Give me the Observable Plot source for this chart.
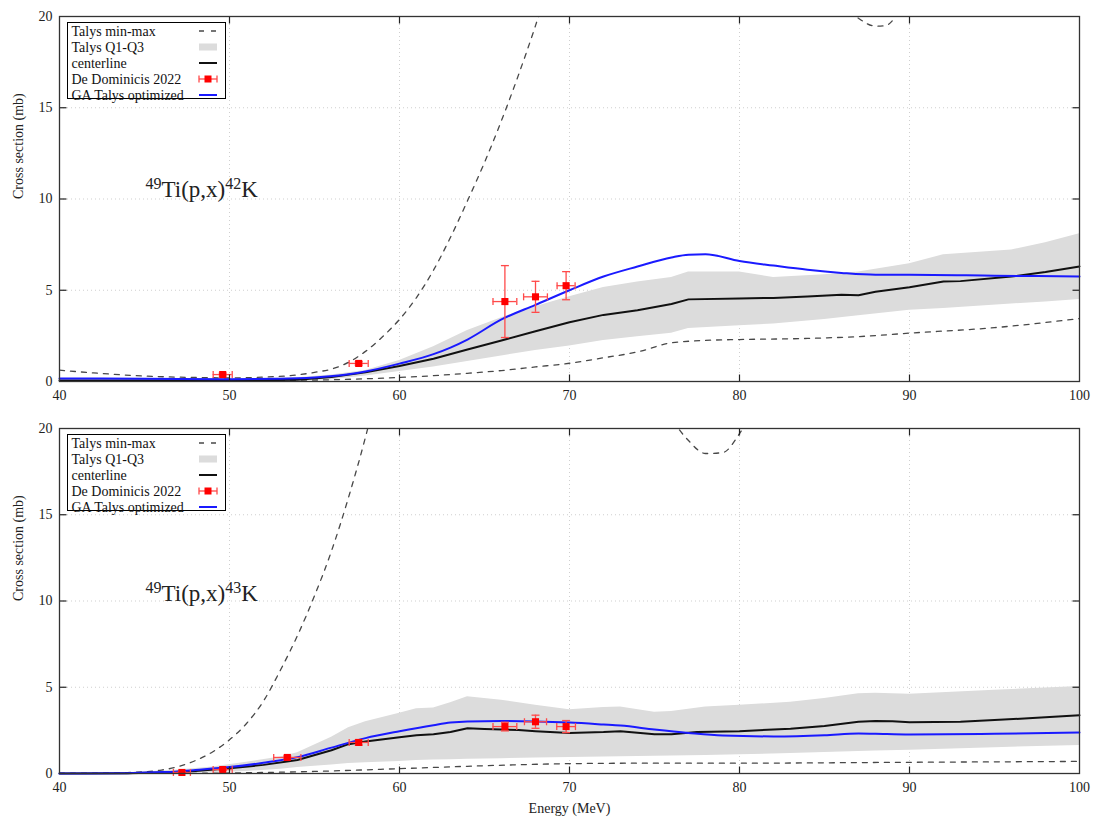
<!DOCTYPE html>
<html><head><meta charset="utf-8">
<script src="https://cdn.jsdelivr.net/npm/d3@7"></script>
<script src="https://cdn.jsdelivr.net/npm/@observablehq/plot@0.6"></script>
<style>
body{margin:0;background:#fff;}
#chart{width:1093px;}
#chart svg{display:block;}
</style></head><body><div id="chart"></div>
<script>
// ---------- axes ----------
const xTickValues = [40, 50, 60, 70, 80, 90, 100];
const yTickValues = [0, 5, 10, 15, 20];
const legendLabels = ["Talys min-max", "Talys Q1-Q3", "centerline", "De Dominicis 2022", "GA Talys optimized"];

// ---------- Panel 1: 49Ti(p,x)42K  ([E, value]) ----------
const k42Max = [[40,0.62],[42,0.47],[45,0.3],[48,0.22],[50,0.2],[52,0.24],[54,0.36],[55,0.5],[56,0.68],[57,1.05],[58,1.65],[59,2.45],[60,3.4],[61,4.6],[62,6.1],[63,7.9],[64,9.9],[65,12.0],[66,14.3],[67,16.8],[68,19.5],[69,22.5],[70,25.5],[74,34],[78,38],[82,31],[85,23],[86,20.7],[87,19.9],[88,19.47],[88.6,19.5],[89.2,20.0],[90,21.2],[92,24],[96,29],[100,33]];
const k42Min = [[40,0.05],[45,0.05],[50,0.05],[55,0.08],[58,0.15],[60,0.22],[62,0.32],[64,0.45],[66,0.6],[68,0.8],[70,1.0],[72,1.3],[74,1.62],[76,2.12],[78,2.25],[80,2.3],[84,2.36],[87,2.46],[90,2.65],[95,2.95],[100,3.45]];
const k42Band = [[40,0,0.15],[45,0,0.15],[50,0,0.15],[54,0.02,0.2],[56,0.1,0.35],[58,0.3,0.6],[60,0.55,1.15],[62,0.8,1.9],[64,1.1,2.8],[66,1.4,3.5],[68,1.7,4.1],[70,1.95,4.65],[72,2.25,5.15],[74,2.45,5.45],[76,2.65,5.7],[77,2.9,6.0],[80,3.05,6.0],[82,3.15,5.7],[85,3.4,5.85],[87,3.6,6.0],[90,3.9,6.45],[92,4.0,6.95],[96,4.25,7.2],[98,4.35,7.6],[100,4.5,8.1]];
const k42Center = [[40,0.05],[50,0.05],[54,0.1],[56,0.25],[58,0.5],[60,0.85],[62,1.25],[64,1.75],[66,2.25],[68,2.75],[70,3.25],[72,3.65],[74,3.9],[76,4.25],[77,4.5],[80,4.55],[82,4.58],[84,4.66],[86,4.76],[87,4.73],[88,4.92],[90,5.17],[92,5.48],[93,5.5],[96,5.75],[98,6.0],[100,6.3]];
const k42GA = [[40,0.17],[45,0.15],[50,0.13],[53,0.15],[55,0.22],[57,0.4],[58,0.55],[60,0.98],[62,1.5],[63,1.86],[64,2.3],[66,3.4],[68,4.2],[70,5.0],[72,5.75],[74,6.3],[76,6.8],[77,6.95],[78,6.97],[80,6.6],[82,6.35],[84,6.12],[86,5.95],[88,5.85],[90,5.85],[95,5.8],[100,5.75]];
const k42ExpE = [49.6, 57.6, 66.2, 68.0, 69.8];
const k42ExpV = [0.38, 0.99, 4.38, 4.64, 5.25];
const k42ExpErrE = [0.56, 0.56, 0.7, 0.7, 0.53];
const k42ExpErrV = [0.08, 0.09, 1.97, 0.85, 0.77];

// ---------- Panel 2: 49Ti(p,x)43K ----------
const k43Max = [[40,0],[42,0.01],[44,0.05],[45,0.1],[46,0.2],[47,0.4],[48,0.75],[49,1.25],[50,1.95],[51,2.9],[52,4.2],[53,6.0],[54,8.0],[55,10.3],[56,12.9],[57,16],[58,19.5],[59,23.5],[60,28],[65,40],[70,38],[74,26],[75,22.5],[76,20.6],[77,19.3],[78,18.55],[79,18.6],[80,19.7],[81,21.5],[85,30],[90,40],[100,50]];
const k43Min = [[40,0],[45,0],[50,0.03],[55,0.12],[60,0.28],[65,0.45],[70,0.57],[75,0.6],[80,0.6],[90,0.65],[100,0.7]];
const k43Band = [[40,0,0],[43,0,0.02],[45,0,0.08],[47,0.02,0.2],[49,0.05,0.38],[51,0.12,0.65],[53,0.25,0.95],[54,0.35,1.2],[56,0.5,2.1],[57,0.58,2.65],[58,0.63,3.0],[60,0.7,3.5],[61,0.75,3.75],[62,0.78,3.8],[63,0.8,4.1],[64,0.82,4.45],[66,0.86,4.25],[68,0.9,3.95],[70,0.93,3.7],[72,0.95,3.83],[73,0.97,3.85],[75,1.0,3.55],[76,1.02,3.6],[78,1.05,3.85],[80,1.08,3.95],[83,1.16,4.13],[85,1.22,4.35],[87,1.28,4.62],[88,1.3,4.65],[90,1.35,4.6],[95,1.5,4.82],[100,1.62,5.05]];
const k43Center = [[40,0],[44,0.02],[46,0.06],[48,0.15],[50,0.3],[52,0.5],[54,0.78],[56,1.35],[57,1.7],[58,1.85],[60,2.1],[61,2.22],[62,2.27],[63,2.4],[64,2.62],[65,2.58],[67,2.52],[68,2.45],[70,2.35],[72,2.4],[73,2.45],[75,2.27],[76,2.27],[77.5,2.4],[80,2.45],[83,2.6],[85,2.75],[87,3.0],[88,3.05],[89,3.03],[90,2.97],[93,3.0],[95,3.1],[97,3.2],[100,3.38]];
const k43GA = [[40,0],[44,0.02],[46,0.08],[47,0.12],[48,0.2],[50,0.37],[52,0.62],[54,0.95],[56,1.5],[58,2.05],[60,2.45],[62,2.8],[63,2.95],[64,3.02],[66,3.05],[68,3.02],[70,2.95],[72,2.84],[73,2.78],[75,2.55],[77,2.35],[79,2.2],[82,2.15],[85,2.22],[87,2.32],[88,2.3],[90,2.26],[95,2.3],[100,2.38]];
const k43ExpE = [47.2, 49.6, 53.4, 57.6, 66.2, 68.0, 69.8];
const k43ExpV = [0.06, 0.23, 0.93, 1.8, 2.72, 3.0, 2.72];
const k43ExpErrE = [0.5, 0.56, 0.8, 0.56, 0.7, 0.65, 0.55];
const k43ExpErrV = [0.05, 0.05, 0.08, 0.15, 0.25, 0.38, 0.35];

// ---------- styles ----------
const FONT = "'Liberation Serif','Times New Roman',serif";
const DASH_COLOR = "#484848", BAND_COLOR = "#dcdcdc", CENTER_COLOR = "#111", GA_COLOR = "#1a1aff", EXP_COLOR = "#ff0000", ERR_COLOR = "#ff4a4a";
const GRID_COLOR = "#cfcfcf";
const TICK = 7;
const sym = f => ({draw(ctx){ f(ctx); }});
const upTick = sym(c => {c.moveTo(0,0); c.lineTo(0,-TICK);});
const downTick = sym(c => {c.moveTo(0,0); c.lineTo(0,TICK);});
const rightTick = sym(c => {c.moveTo(0,0); c.lineTo(TICK,0);});
const leftTick = sym(c => {c.moveTo(0,0); c.lineTo(-TICK,0);});
const capV = sym(c => {c.moveTo(0,-3.5); c.lineTo(0,3.5);});
const capH = sym(c => {c.moveTo(-4,0); c.lineTo(4,0);});

function panel({height, marginTop, marginBottom, max, min, band, center, ga, expE, expV, expErrE, expErrV, label, labelY, target, xLabel}) {
  const pts = a => a.map(([E, v]) => ({E, v}));
  const bandRows = band.map(([E, lo, hi]) => ({E, lo, hi}));
  const exp = expE.map((E, i) => ({E, v: expV[i], dE: expErrE[i], dV: expErrV[i]}));
  const inner = xTickValues.slice(1, -1), innerY = yTickValues.slice(1, -1);
  const marks = [
    Plot.gridX(inner, {stroke: GRID_COLOR, strokeOpacity: 1, strokeWidth: 1, strokeDasharray: "1,3"}),
    Plot.gridY(innerY, {stroke: GRID_COLOR, strokeOpacity: 1, strokeWidth: 1, strokeDasharray: "1,3"}),
    Plot.areaY(bandRows, {x: "E", y1: "lo", y2: "hi", fill: BAND_COLOR}),
    Plot.line(pts(min), {x: "E", y: "v", stroke: DASH_COLOR, strokeWidth: 1.3, strokeDasharray: "5,6", curve: "monotone-x", clip: true}),
    Plot.line(pts(max), {x: "E", y: "v", stroke: DASH_COLOR, strokeWidth: 1.3, strokeDasharray: "5,6", curve: "monotone-x", clip: true}),
    Plot.line(pts(center), {x: "E", y: "v", stroke: CENTER_COLOR, strokeWidth: 2}),
    Plot.line(pts(ga), {x: "E", y: "v", stroke: GA_COLOR, strokeWidth: 2, curve: "monotone-x"}),
    Plot.ruleX(exp, {x: "E", y1: d => d.v - d.dV, y2: d => d.v + d.dV, stroke: ERR_COLOR, strokeWidth: 1.3}),
    Plot.ruleY(exp, {y: "v", x1: d => d.E - d.dE, x2: d => d.E + d.dE, stroke: ERR_COLOR, strokeWidth: 1.3}),
    Plot.dot(exp, {x: d => d.E - d.dE, y: "v", symbol: capV, fill: "none", stroke: ERR_COLOR, strokeWidth: 1.3}),
    Plot.dot(exp, {x: d => d.E + d.dE, y: "v", symbol: capV, fill: "none", stroke: ERR_COLOR, strokeWidth: 1.3}),
    Plot.dot(exp, {x: "E", y: d => d.v - d.dV, symbol: capH, fill: "none", stroke: ERR_COLOR, strokeWidth: 1.3}),
    Plot.dot(exp, {x: "E", y: d => d.v + d.dV, symbol: capH, fill: "none", stroke: ERR_COLOR, strokeWidth: 1.3}),
    Plot.dot(exp, {x: "E", y: "v", symbol: "square", r: 4, fill: EXP_COLOR, stroke: "none"}),
    Plot.dot(inner, {x: d => d, frameAnchor: "bottom", symbol: upTick, fill: "none", stroke: "#222", strokeWidth: 1.2}),
    Plot.dot(inner, {x: d => d, frameAnchor: "top", symbol: downTick, fill: "none", stroke: "#222", strokeWidth: 1.2}),
    Plot.dot(innerY, {y: d => d, frameAnchor: "left", symbol: rightTick, fill: "none", stroke: "#222", strokeWidth: 1.2}),
    Plot.dot(innerY, {y: d => d, frameAnchor: "right", symbol: leftTick, fill: "none", stroke: "#222", strokeWidth: 1.2}),
    Plot.frame({stroke: "#333", strokeWidth: 1.3}),
    Plot.axisX(xTickValues, {tickSize: 0, tickPadding: 9, label: null}),
    Plot.axisY(yTickValues, {tickSize: 0, tickPadding: 7, label: null}),
    Plot.text(["Cross section (mb)"], {frameAnchor: "left", dx: -41, rotate: -90, fontSize: 14}),
    Plot.text([label], {x: 45.06, y: labelY, textAnchor: "start", fontSize: 23})
  ];
  if (xLabel) marks.push(Plot.text([xLabel], {frameAnchor: "bottom", dy: 39, fontSize: 14}));
  const svg = Plot.plot({
    width: 1093, height, marginLeft: 59, marginRight: 14, marginTop, marginBottom,
    x: {domain: [40, 100]}, y: {domain: [0, 20]},
    style: {fontFamily: FONT, fontSize: "14px", color: "#222", background: "white", overflow: "visible"},
    marks
  });
  // superscripts in reaction label
  d3.select(svg).selectAll("text").filter(function(){ return this.textContent === label; }).each(function(){
    const t = d3.select(this);
    const m = label.match(/^(\d+)(.*?\))(\d+)(.*)$/);
    t.text(null);
    t.append("tspan").attr("font-size", 16).attr("dy", -8).text(m[1]);
    t.append("tspan").attr("font-size", 23).attr("dy", 8).text(m[2]);
    t.append("tspan").attr("font-size", 16).attr("dy", -8).text(m[3]);
    t.append("tspan").attr("font-size", 23).attr("dy", 8).text(m[4]);
  });
  // legend
  const L = 59, T = marginTop;
  const g = d3.select(svg).append("g").attr("transform", `translate(${L + 8.5},${T + 6.5})`)
    .attr("font-family", FONT).attr("text-anchor", "start");
  g.append("rect").attr("width", 158).attr("height", 76).attr("fill", "white").attr("stroke", "#000").attr("stroke-width", 1);
  const rowY = i => 8.5 + 16 * i;
  const sx0 = 131.5, sx1 = 149.5;
  legendLabels.forEach((s, i) => {
    g.append("text").attr("x", 4).attr("y", rowY(i)).attr("dy", "0.35em").attr("font-size", 14)
      .attr("text-anchor", "start").attr("fill", "#111").text(s);
  });
  g.append("line").attr("x1", sx0).attr("x2", sx1).attr("y1", rowY(0)).attr("y2", rowY(0)).attr("stroke", DASH_COLOR).attr("stroke-width", 1.3).attr("stroke-dasharray", "5,7");
  g.append("rect").attr("x", sx0).attr("y", rowY(1) - 3.5).attr("width", sx1 - sx0).attr("height", 7).attr("fill", BAND_COLOR);
  g.append("line").attr("x1", sx0).attr("x2", sx1).attr("y1", rowY(2)).attr("y2", rowY(2)).attr("stroke", CENTER_COLOR).attr("stroke-width", 2);
  g.append("line").attr("x1", sx0).attr("x2", sx1).attr("y1", rowY(3)).attr("y2", rowY(3)).attr("stroke", ERR_COLOR).attr("stroke-width", 1.3);
  [sx0, sx1].forEach(x => g.append("line").attr("x1", x).attr("x2", x).attr("y1", rowY(3) - 3.5).attr("y2", rowY(3) + 3.5).attr("stroke", ERR_COLOR).attr("stroke-width", 1.3));
  g.append("rect").attr("x", (sx0 + sx1) / 2 - 3.5).attr("y", rowY(3) - 3.5).attr("width", 7).attr("height", 7).attr("fill", EXP_COLOR);
  g.append("line").attr("x1", sx0).attr("x2", sx1).attr("y1", rowY(4)).attr("y2", rowY(4)).attr("stroke", GA_COLOR).attr("stroke-width", 2);
  target.appendChild(svg);
}

const chart = document.getElementById("chart");
panel({height: 410, marginTop: 16, marginBottom: 29, max: k42Max, min: k42Min, band: k42Band, center: k42Center, ga: k42GA,
  expE: k42ExpE, expV: k42ExpV, expErrE: k42ExpErrE, expErrV: k42ExpErrV, label: "49Ti(p,x)42K", labelY: 10.5, target: chart});
panel({height: 411, marginTop: 18, marginBottom: 48, max: k43Max, min: k43Min, band: k43Band, center: k43Center, ga: k43GA,
  expE: k43ExpE, expV: k43ExpV, expErrE: k43ExpErrE, expErrV: k43ExpErrV, label: "49Ti(p,x)43K", labelY: 10.4, target: chart, xLabel: "Energy (MeV)"});
</script>
</body></html>
